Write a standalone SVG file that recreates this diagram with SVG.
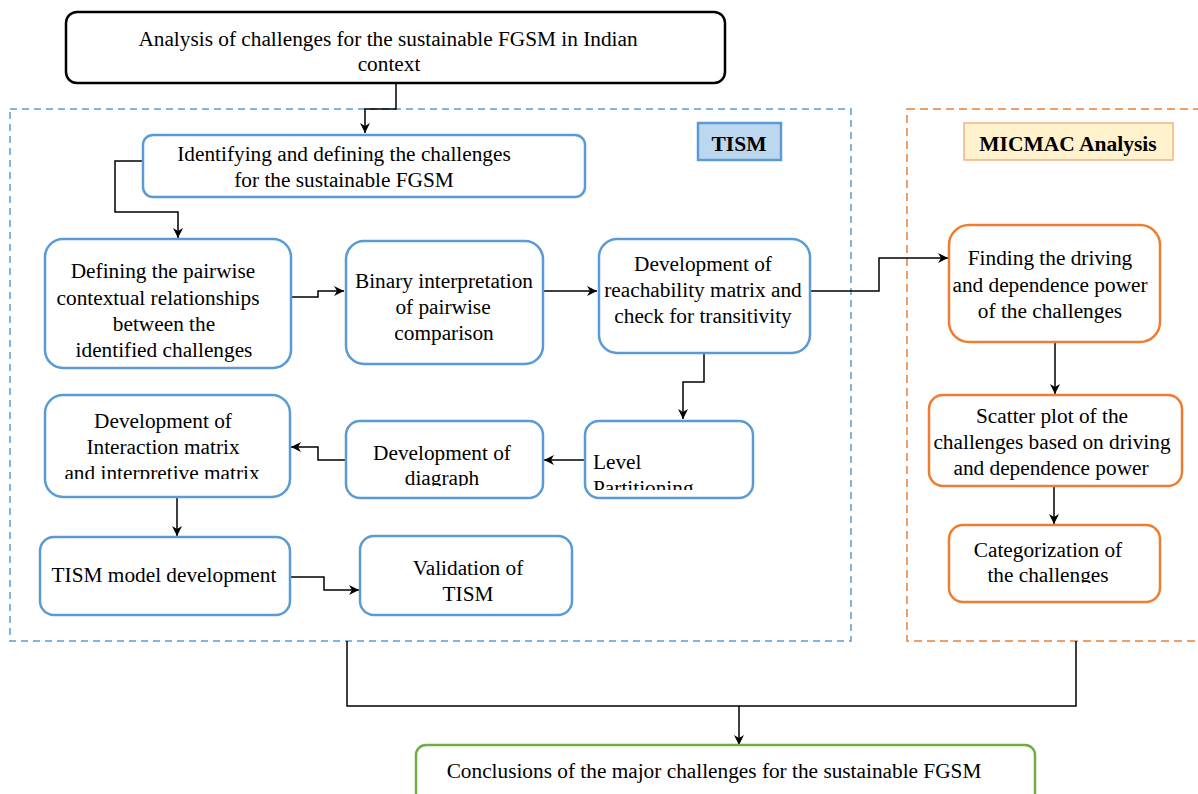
<svg xmlns="http://www.w3.org/2000/svg" width="1198" height="794" viewBox="0 0 1198 794">
<defs>
<style>
.t{font-family:"Liberation Serif","Times New Roman",serif;font-size:21.3px;fill:#000;text-anchor:middle}
.b{font-weight:bold;font-size:21.5px}
.blue{fill:#fff;stroke:#5b9bd5;stroke-width:2.5}
.orange{fill:#fff;stroke:#ed7d31;stroke-width:2.5}
.c{fill:none;stroke:#000;stroke-width:1.5}
</style>
<marker id="ah" viewBox="0 0 10 10" refX="10" refY="5" markerWidth="10" markerHeight="10" markerUnits="userSpaceOnUse" orient="auto">
<path d="M0,0 L10,5 L0,10 L3,5 Z" fill="#000"/>
</marker>
<clipPath id="clipInt"><rect x="40" y="390" width="260" height="89"/></clipPath>
<clipPath id="clipDia"><rect x="340" y="415" width="210" height="71"/></clipPath>
<clipPath id="clipLev"><rect x="580" y="415" width="180" height="75"/></clipPath>
<clipPath id="clipCat"><rect x="940" y="520" width="230" height="63"/></clipPath>
</defs>
<rect width="1198" height="794" fill="#fff"/>

<g id="tism-frame">
<rect x="10" y="109" width="841" height="532" fill="none" stroke="#5b9bd5" stroke-width="1.5" stroke-dasharray="7,5"/>
</g>
<g id="micmac-frame">
<rect x="907" y="109" width="320" height="532" fill="none" stroke="#ed7d31" stroke-width="1.5" stroke-dasharray="8,5"/>
</g>

<g id="tism-label">
<rect x="698" y="123" width="83" height="37" fill="#bdd7ee" stroke="#5b9bd5" stroke-width="2.5"/>
<text class="t b" x="739" y="151">TISM</text>
</g>
<g id="micmac-label">
<rect x="964" y="123" width="209" height="37" fill="#fff2cc" stroke="#f4b183" stroke-width="1.5"/>
<text class="t b" x="1068" y="151">MICMAC Analysis</text>
</g>

<g id="connectors">
<path class="c" d="M396,83 V109 H365 V133" marker-end="url(#ah)"/>
<path class="c" d="M143,161 H115 V212 H178 V238" marker-end="url(#ah)"/>
<path class="c" d="M291,297 H318 V291 H344" marker-end="url(#ah)"/>
<path class="c" d="M543,291 H597" marker-end="url(#ah)"/>
<path class="c" d="M810,291 H879 V258 H948" marker-end="url(#ah)"/>
<path class="c" d="M704,353 V382 H683 V419" marker-end="url(#ah)"/>
<path class="c" d="M585,460 H544" marker-end="url(#ah)"/>
<path class="c" d="M346,460 H318 V447 H291" marker-end="url(#ah)"/>
<path class="c" d="M177,498 V536" marker-end="url(#ah)"/>
<path class="c" d="M290,577 H324 V590 H359" marker-end="url(#ah)"/>
<path class="c" d="M1055,342 V394" marker-end="url(#ah)"/>
<path class="c" d="M1054,486 V524" marker-end="url(#ah)"/>
<path class="c" d="M347,641 V706 H1076 V641"/>
<path class="c" d="M739,706 V745" marker-end="url(#ah)"/>
</g>

<g id="n-top">
<rect x="66" y="12" width="659" height="71" rx="11" fill="#fff" stroke="#000" stroke-width="2.5"/>
<text class="t" x="388" y="46">Analysis of challenges for the sustainable FGSM in Indian</text>
<text class="t" x="389" y="71">context</text>
</g>

<g id="n-identify">
<rect class="blue" x="143" y="135" width="442" height="62" rx="10"/>
<text class="t" x="344" y="161">Identifying and defining the challenges</text>
<text class="t" x="344" y="187">for the sustainable FGSM</text>
</g>

<g id="n-pairwise">
<rect class="blue" x="45" y="239" width="246" height="129" rx="18"/>
<text class="t" x="163" y="278">Defining the pairwise</text>
<text class="t" x="158" y="305">contextual relationships</text>
<text class="t" x="164" y="331">between the</text>
<text class="t" x="164" y="357">identified challenges</text>
</g>

<g id="n-binary">
<rect class="blue" x="346" y="241" width="197" height="123" rx="18"/>
<text class="t" x="444" y="288">Binary interpretation</text>
<text class="t" x="443" y="314">of pairwise</text>
<text class="t" x="444" y="340">comparison</text>
</g>

<g id="n-reach">
<rect class="blue" x="599" y="239" width="211" height="114" rx="18"/>
<text class="t" x="703" y="271">Development of</text>
<text class="t" x="703" y="297">reachability matrix and</text>
<text class="t" x="703" y="323">check for transitivity</text>
</g>

<g id="n-level">
<rect class="blue" x="585" y="421" width="168" height="77" rx="14"/>
<g clip-path="url(#clipLev)">
<text class="t" x="593" y="469" style="text-anchor:start">Level</text>
<text class="t" x="593" y="495" style="text-anchor:start">Partitioning</text>
</g>
</g>

<g id="n-diagraph">
<rect class="blue" x="346" y="421" width="197" height="77" rx="14"/>
<g clip-path="url(#clipDia)">
<text class="t" x="442" y="460">Development of</text>
<text class="t" x="442" y="485">diagraph</text>
</g>
</g>

<g id="n-interaction">
<rect class="blue" x="45" y="395" width="245" height="102" rx="18"/>
<g clip-path="url(#clipInt)">
<text class="t" x="163" y="428">Development of</text>
<text class="t" x="163" y="454">Interaction matrix</text>
<text class="t" x="162" y="480">and interpretive matrix</text>
</g>
</g>

<g id="n-model">
<rect class="blue" x="40" y="537" width="250" height="78" rx="14"/>
<text class="t" x="164" y="582">TISM model development</text>
</g>

<g id="n-validation">
<rect class="blue" x="360" y="536" width="212" height="79" rx="14"/>
<text class="t" x="468" y="575">Validation of</text>
<text class="t" x="468" y="601">TISM</text>
</g>

<g id="n-driving">
<rect class="orange" x="949" y="225" width="211" height="117" rx="20"/>
<text class="t" x="1050" y="265">Finding the driving</text>
<text class="t" x="1050" y="292">and dependence power</text>
<text class="t" x="1050" y="318">of the challenges</text>
</g>

<g id="n-scatter">
<rect class="orange" x="929" y="395" width="253" height="91" rx="14"/>
<text class="t" x="1052" y="423">Scatter plot of the</text>
<text class="t" x="1052" y="449">challenges based on driving</text>
<text class="t" x="1051" y="475">and dependence power</text>
</g>

<g id="n-category">
<rect class="orange" x="949" y="525" width="211" height="77" rx="14"/>
<g clip-path="url(#clipCat)">
<text class="t" x="1048" y="557">Categorization of</text>
<text class="t" x="1048" y="582">the challenges</text>
</g>
</g>

<g id="n-conclusion">
<rect x="416" y="745" width="619" height="70" rx="10" fill="#fff" stroke="#70ad47" stroke-width="2.5"/>
<text class="t" x="714" y="778">Conclusions of the major challenges for the sustainable FGSM</text>
</g>
</svg>
